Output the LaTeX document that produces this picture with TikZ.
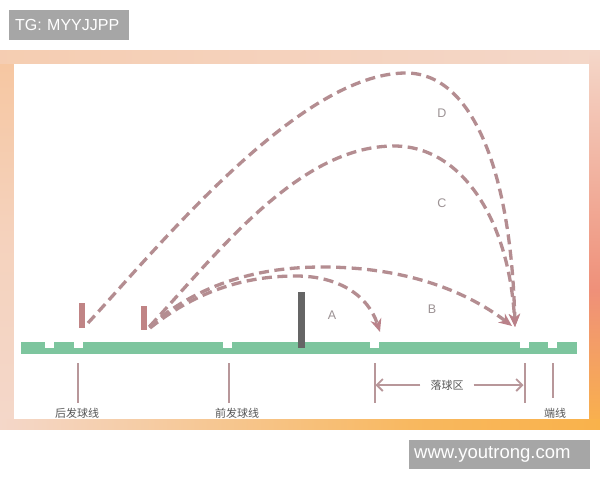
\documentclass[tikz,border=0pt]{standalone}
\usepackage{fontspec}
\setmainfont{Liberation Sans}
\newfontfamily\cjk{Noto Sans CJK SC}
\usetikzlibrary{arrows.meta}
\definecolor{courtgreen}{HTML}{7DC59E}
\definecolor{netgray}{HTML}{656565}
\definecolor{srvpink}{HTML}{C08485}
\definecolor{arccol}{HTML}{B48D91}
\definecolor{tipcol}{HTML}{BA8189}
\definecolor{tickcol}{HTML}{B8979A}
\definecolor{lblcol}{HTML}{555555}
\definecolor{letcol}{HTML}{9C9294}
\definecolor{wmgray}{HTML}{A6A6A6}
\definecolor{peach}{HTML}{F4D7C9}
\definecolor{peachor}{HTML}{F6C7A2}
\definecolor{coral}{HTML}{EF9079}
\definecolor{orng}{HTML}{F9B24B}
\tikzset{
  arcpath/.style={draw=arccol, line width=3.3pt, dash pattern=on 10pt off 5.5pt,
    -{Stealth[length=13pt,width=11pt,inset=4pt,color=tipcol]}},
  tickline/.style={draw=tickcol, line width=2pt},
  zonearrow/.style={draw=tickcol, line width=1.8pt, -{Straight Barb[length=6pt,width=12pt]}},
  lbl/.style={font=\cjk\fontsize{11}{13}\selectfont, text=lblcol, inner sep=0pt},
  letter/.style={font=\fontsize{12.5}{14}\selectfont, text=letcol, inner sep=0pt},
  wmbox/.style={fill=wmgray, text=white, inner sep=0pt, anchor=north west},
  notch/.style={fill=white}
}
\begin{document}
\begin{tikzpicture}[x=1pt,y=-1pt]
\useasboundingbox (0,0) rectangle (600,480);
\fill[white] (0,0) rectangle (600,480);
% frame band
\fill[peach] (0,50) rectangle (600,429);
\shade[left color=peachor!60!peach, right color=peach] (0,50) rectangle (600,64);
\shade[top color=peachor, bottom color=peach, middle color=peach!70!peachor] (0,64) rectangle (14,419);
\shade[top color=peach, bottom color=coral] (589,50) rectangle (600,290);
\shade[top color=coral, bottom color=orng] (589,290) rectangle (600,429);
\shade[left color=peach, right color=orng!85!peach] (0,419) rectangle (420,429);
\shade[left color=orng!85!peach, right color=orng] (420,419) rectangle (600,429);
\fill[white] (14,64) rectangle (589,419);
% court
\fill[courtgreen] (21,342) rectangle (577,354);
\foreach \nx in {45,74,223,370,520,548} \fill[notch] (\nx,341.5) rectangle (\nx+9,348);
% net
\node[fill=netgray, minimum width=7pt, minimum height=56pt, inner sep=0pt] (net) at (301.5,320) {};
% servers
\node[fill=srvpink, minimum width=6pt, minimum height=25pt, inner sep=0pt] (srv1) at (81.5,315.5) {};
\node[fill=srvpink, minimum width=6pt, minimum height=24pt, inner sep=0pt] (srv2) at (143.5,318) {};
% arc endpoints
\coordinate (sD) at (88,323);
\coordinate (sC) at (150,326);
\coordinate (sA) at (150,328);
\coordinate (sB) at (149,327);
\coordinate (eA) at (380,332);
\coordinate (eB) at (512,326);
\coordinate (eCD) at (515,327);
% arcs
\draw[arcpath] (sD) .. controls (160,245) and (300,73) .. (406,73)
  .. controls (472,73) and (511,170) .. (eCD);
\draw[arcpath] (sC) .. controls (220,250) and (300,146) .. (394,146)
  .. controls (462,146) and (509,220) .. (eCD);
\draw[arcpath] (sA) .. controls (200,288) and (250,276) .. (296,276)
  .. controls (338,276) and (368,295) .. (eA);
\draw[arcpath] (sB) .. controls (200,282) and (262,267) .. (322,267)
  .. controls (400,267) and (462,288) .. (eB);
% letters
\node[letter] (la) at (332,315) {A};
\node[letter] (lb) at (432,309) {B};
\node[letter] (lc) at (442,203) {C};
\node[letter] (ld) at (442,113) {D};
% tick lines
\coordinate (t1a) at (77.5,363); \coordinate (t1b) at (77.5,403);
\coordinate (t2a) at (228.5,363); \coordinate (t2b) at (228.5,403);
\coordinate (t3a) at (374.5,363); \coordinate (t3b) at (374.5,403);
\coordinate (t4a) at (524.5,363); \coordinate (t4b) at (524.5,403);
\coordinate (t5a) at (553,363); \coordinate (t5b) at (553,398);
\foreach \i in {1,...,5} \draw[tickline] (t\i a) -- (t\i b);
% zone label and arrows
\node[lbl] (zone) at (447,385) {落球区};
\coordinate (zl) at (375.5,385);
\coordinate (zr) at (523.5,385);
\draw[zonearrow] ([xshift=-10pt]zone.west) -- (zl);
\draw[zonearrow] ([xshift=10pt]zone.east) -- (zr);
% bottom labels
\node[lbl] (back) at (77,413) {后发球线};
\node[lbl] (front) at (237,413) {前发球线};
\node[lbl] (end) at (555,413) {端线};
% watermarks
\node[wmbox, minimum width=120pt, minimum height=30pt, text width=116pt, align=left, font=\fontsize{16}{18}\selectfont] (wm1) at (9,10) {\hspace*{4pt}TG: MYYJJPP};
\node[wmbox, minimum width=181pt, minimum height=29pt, text width=181pt, align=left, font=\fontsize{18.5}{20}\selectfont] (wm2) at (409,440) {\hspace*{5pt}www.youtrong.com};
\end{tikzpicture}
\end{document}
